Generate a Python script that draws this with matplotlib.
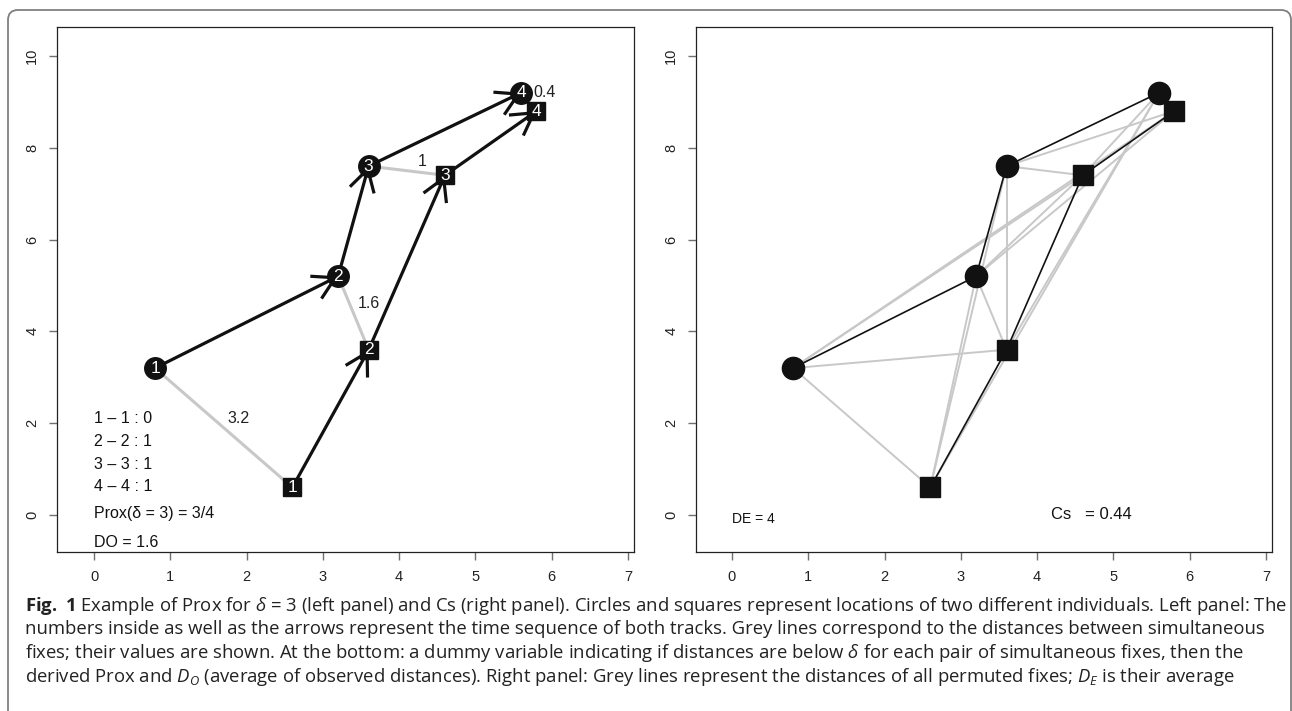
import numpy as np
import matplotlib
matplotlib.use("Agg")
import matplotlib.pyplot as plt
from matplotlib.patches import FancyBboxPatch

# ------------------------
# Data: two tracks, four simultaneous fixes each
# ------------------------

circle_x = [0.8, 3.2, 3.6, 5.6]
circle_y = [3.2, 5.2, 7.6, 9.2]
square_x = [2.6, 3.6, 4.6, 5.8]
square_y = [0.6, 3.6, 7.4, 8.8]
fix_labels = ["1", "2", "3", "4"]
delta = 3

x_ticks = [0, 1, 2, 3, 4, 5, 6, 7]
y_ticks = [0, 2, 4, 6, 8, 10]

caption_lines = [
    r"$\mathbf{Fig.\ 1}$ Example of Prox for $\delta$ = 3 (left panel) and Cs (right panel). "
    r"Circles and squares represent locations of two different individuals. Left panel: The",
    "numbers inside as well as the arrows represent the time sequence of both tracks. "
    "Grey lines correspond to the distances between simultaneous",
    r"fixes; their values are shown. At the bottom: a dummy variable indicating if distances "
    r"are below $\delta$ for each pair of simultaneous fixes, then the",
    r"derived Prox and $D_O$ (average of observed distances). Right panel: Grey lines represent "
    r"the distances of all permuted fixes; $D_E$ is their average",
]

# ------------------------
# Derived quantities
# ------------------------

cx, cy = np.array(circle_x), np.array(circle_y)
sx, sy = np.array(square_x), np.array(square_y)
d_obs = np.hypot(cx - sx, cy - sy)
below = (d_obs < delta).astype(int)
d_o = d_obs.mean()
d_all = np.hypot(cx[:, None] - sx[None, :], cy[:, None] - sy[None, :])
d_e = d_all.mean()
cs = (d_e - d_o) / (d_e + d_o)

# ------------------------
# Style
# ------------------------

plt.rcParams["font.family"] = ["Liberation Sans", "DejaVu Sans"]
plt.rcParams["mathtext.fontset"] = "custom"
plt.rcParams["mathtext.rm"] = "Open Sans"
plt.rcParams["mathtext.it"] = "Open Sans:italic"
plt.rcParams["mathtext.bf"] = "Open Sans:bold"

W, H = 1292, 711
GREY = "#c8c8c8"
INK = "#111111"

fig = plt.figure(figsize=(W / 100, H / 100), dpi=100)


def r_axes(left, right, x_lo, x_hi):
    ax = fig.add_axes([left / W, 1 - 552 / H, (right - left) / W, 525 / H])
    ax.set_xlim(x_lo, x_hi)
    ax.set_ylim(-0.806, 10.63)
    ax.set_xticks(x_ticks)
    ax.set_yticks(y_ticks)
    ax.tick_params(direction="out", length=5.8, width=1, color="#707070",
                   labelsize=10.5, pad=7, labelcolor="#222222")
    for lab in ax.get_yticklabels():
        lab.set_rotation(90)
        lab.set_va("center")
    for sp in ax.spines.values():
        sp.set_linewidth(0.9)
        sp.set_color("#222222")
    return ax


def arrow(ax, x0, y0, x1, y1, lw):
    ax.annotate("", xy=(x1, y1), xytext=(x0, y0),
                arrowprops=dict(arrowstyle="->,head_length=1.56,head_width=0.9",
                                lw=lw, color=INK, shrinkA=0, shrinkB=0,
                                mutation_scale=10, capstyle="butt"),
                zorder=2)


# ------------------------
# Left panel: Prox
# ------------------------

ax1 = r_axes(57, 634, -0.485, 7.078)

for i in range(4):
    ax1.plot([cx[i], sx[i]], [cy[i], sy[i]], color=GREY, lw=2.2, zorder=1,
             solid_capstyle="butt")
    mx, my = (cx[i] + sx[i]) / 2, (cy[i] + sy[i]) / 2
    ax1.text(mx + 0.2, my + 0.2, f"{round(d_obs[i], 1):g}", fontsize=11.5,
             ha="center", va="center", color="#222222")

for i in range(3):
    arrow(ax1, cx[i], cy[i], cx[i + 1], cy[i + 1], 2.3)
    arrow(ax1, sx[i], sy[i], sx[i + 1], sy[i + 1], 2.3)

ax1.plot(cx, cy, "o", ms=15.5, color=INK, mec=INK, zorder=3, lw=0)
ax1.plot(sx, sy, "s", ms=13.5, color=INK, mec=INK, zorder=3, lw=0)
for i, lab in enumerate(fix_labels):
    ax1.text(cx[i], cy[i], lab, color="white", fontsize=12.5, ha="center",
             va="center", zorder=4)
    ax1.text(sx[i], sy[i], lab, color="white", fontsize=12.5, ha="center",
             va="center", zorder=4)

rows_y = [2.11, 1.61, 1.11, 0.61]
for i, lab in enumerate(fix_labels):
    ax1.text(0.0, rows_y[i], f"{lab} \u2013 {lab} : {below[i]}", fontsize=11.5,
             ha="left", va="center", color="#111111")
ax1.text(0.0, 0.04, f"Prox(\u03b4 = {delta}) = {below.sum()}/{len(below)}",
         fontsize=11.5, ha="left", va="center", color="#111111")
ax1.text(0.0, -0.59, f"DO = {round(d_o, 1):g}", fontsize=11.5, ha="left",
         va="center", color="#111111")

# ------------------------
# Right panel: Cs
# ------------------------

ax2 = r_axes(696, 1272, -0.472, 7.08)

for i in range(4):
    for j in range(4):
        ax2.plot([cx[i], sx[j]], [cy[i], sy[j]], color=GREY, lw=1.4, zorder=1)
ax2.plot(cx, cy, color=INK, lw=1.2, zorder=2)
ax2.plot(sx, sy, color=INK, lw=1.2, zorder=2)
ax2.plot(cx, cy, "o", ms=16, color=INK, lw=0, zorder=3)
ax2.plot(sx, sy, "s", ms=14.5, color=INK, lw=0, zorder=3)

ax2.text(0.0, -0.09, f"DE = {round(d_e, 1):g}", fontsize=10, ha="left",
         va="center", color="#111111")
ax2.text(4.18, 0.0, f"Cs   = {round(cs, 2):g}", fontsize=12, ha="left",
         va="center", color="#111111")

# ------------------------
# Frame and caption
# ------------------------

frame = FancyBboxPatch((0.08, -0.5), 12.83, 7.51,
                       boxstyle="round,pad=0,rounding_size=0.1",
                       transform=fig.dpi_scale_trans, fc="none",
                       ec="#808080", lw=1.3)
fig.add_artist(frame)

renderer = fig.canvas.get_renderer()
texts = []
for k, line in enumerate(caption_lines):
    t = fig.text(25 / W, 1 - (606 + 23.5 * k) / H, line, fontsize=12,
                 family="Open Sans", ha="left", va="center", color="#222222")
    texts.append(t)
w1 = texts[0].get_window_extent(renderer).width
size = 12 * (1258 / w1)
for t in texts:
    t.set_fontsize(size)

fig.savefig("out.png", dpi=100)
